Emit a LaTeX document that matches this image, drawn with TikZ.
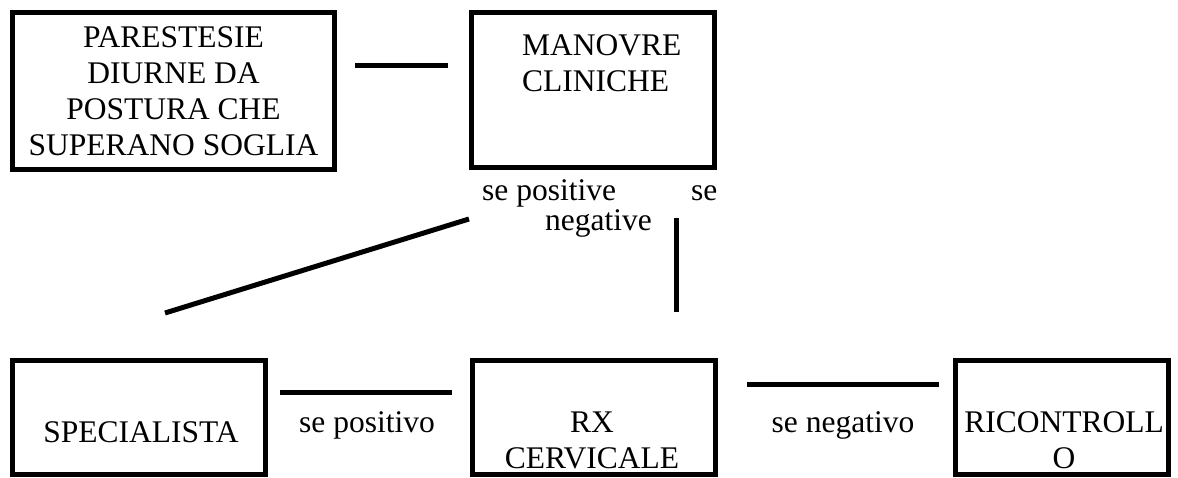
\documentclass[tikz,border=0pt]{standalone}
\usepackage{fontspec}
\setmainfont{Liberation Serif}
\begin{document}
\begin{tikzpicture}[x=1pt,y=-1pt,
  boxnode/.style={draw, line width=5pt, inner sep=0pt, rectangle},
  txt/.style={inner sep=0pt, font=\fontsize{31.5}{36}\selectfont},
  conn/.style={line width=5pt}]
\useasboundingbox (0,0) rectangle (1178,478);
% boxes
\node[boxnode, minimum width=322pt, minimum height=157pt] (b1) at (173.5,91) {};
\node[boxnode, minimum width=243pt, minimum height=155pt] (b2) at (593,90) {};
\node[boxnode, minimum width=253pt, minimum height=114pt] (b3) at (139,417.5) {};
\node[boxnode, minimum width=243pt, minimum height=114pt] (b4) at (594,417.5) {};
\node[boxnode, minimum width=213pt, minimum height=114pt] (b5) at (1062,417.5) {};
% box texts
\node[txt, anchor=north, align=center] (t1) at (173.5,26) {PARESTESIE\\DIURNE DA\\POSTURA CHE\\SUPERANO SOGLIA};
\node[txt, anchor=north west, align=left] (t2) at (522,34) {MANOVRE\\CLINICHE};
\node[txt, anchor=base] (t3) at (141,442) {SPECIALISTA};
\node[txt, anchor=base] (t4a) at (592,432) {RX};
\node[txt, anchor=base] (t4b) at (592,468) {CERVICALE};
\node[txt, anchor=base] (t5a) at (1064,432) {RICONTROLL};
\node[txt, anchor=base] (t5b) at (1064,468) {O};
% labels
\node[txt, anchor=base west] (l1) at (482,201) {se positive\hspace{75pt}se};
\node[txt, anchor=base west] (l2) at (545,231) {negative};
\node[txt, anchor=base] (l3) at (367,432) {se positivo};
\node[txt, anchor=base] (l4) at (843,432) {se negativo};
% connector endpoints
\coordinate (c1a) at (355,66);
\coordinate (c1b) at (448,66);
\coordinate (c2a) at (469,219);
\coordinate (c2b) at (165,313);
\coordinate (c3a) at (676,218);
\coordinate (c3b) at (676,312);
\coordinate (c4a) at (280,392);
\coordinate (c4b) at (452,392);
\coordinate (c5a) at (747,384);
\coordinate (c5b) at (939,384);
\draw[conn] (c1a) -- (c1b);
\draw[conn] (c2a) -- (c2b);
\draw[conn] (c3a) -- (c3b);
\draw[conn] (c4a) -- (c4b);
\draw[conn] (c5a) -- (c5b);
\end{tikzpicture}
\end{document}
